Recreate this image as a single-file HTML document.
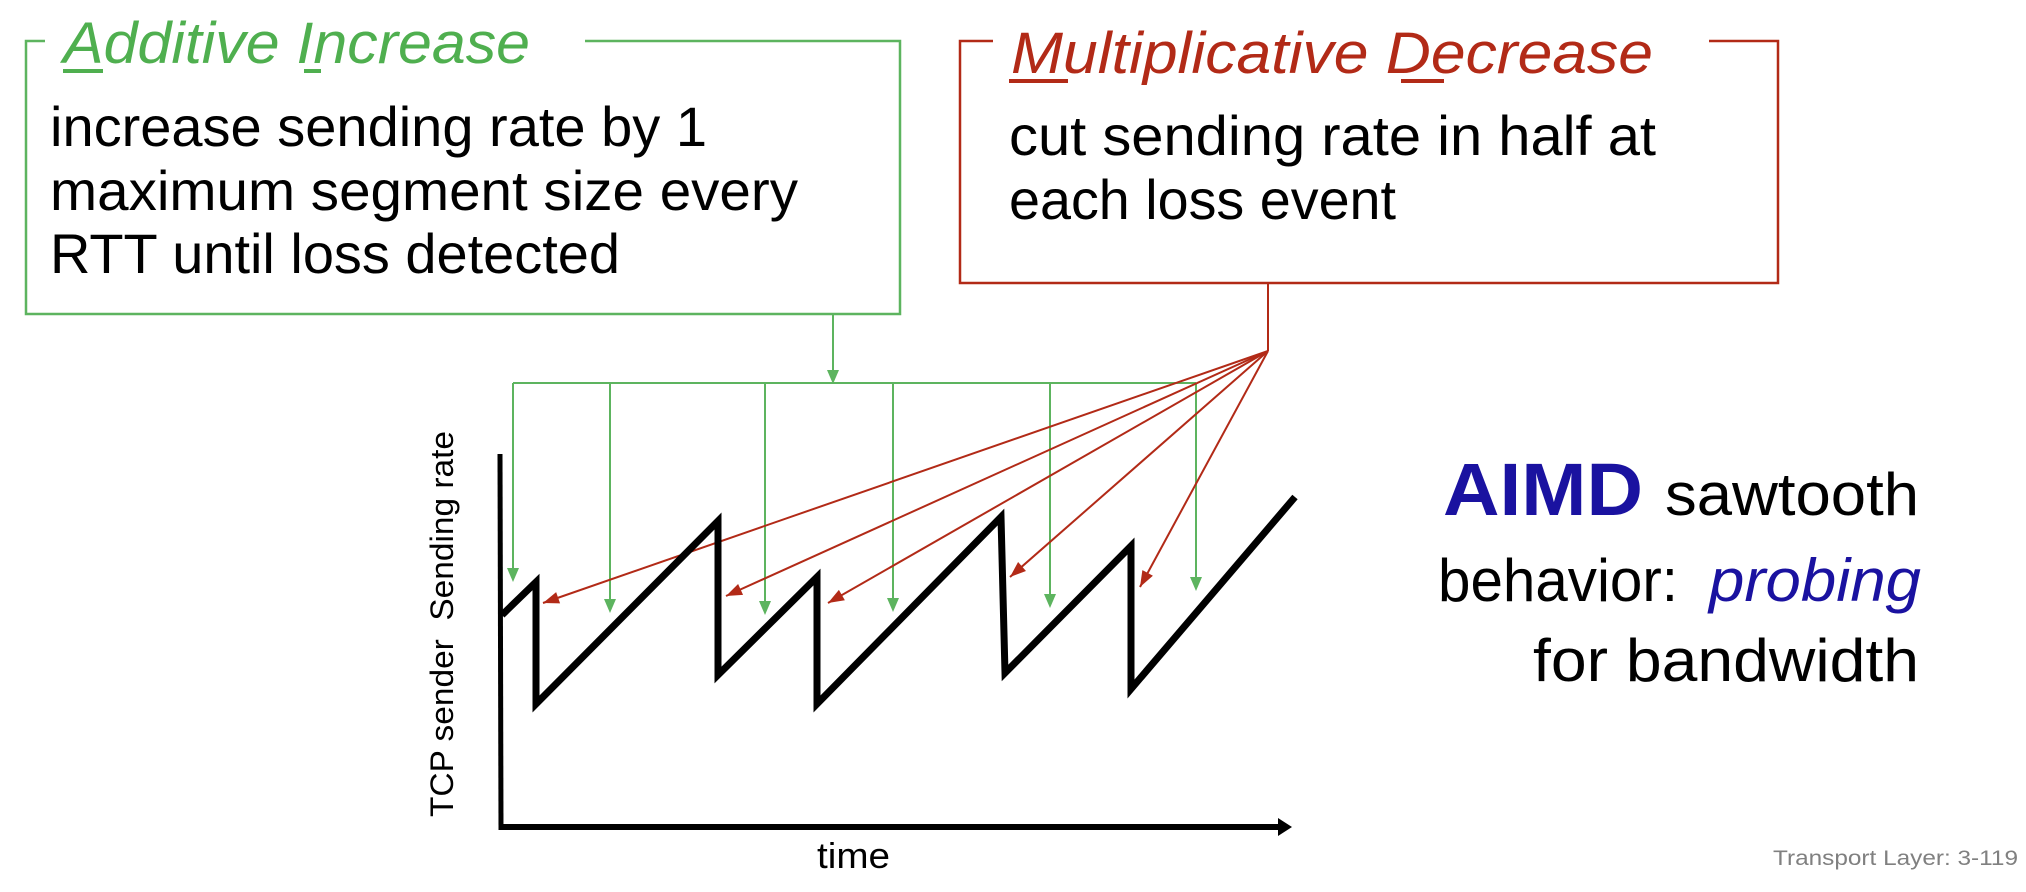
<!DOCTYPE html>
<html><head><meta charset="utf-8"><style>
html,body{margin:0;padding:0;background:#fff;}
svg{display:block;}
text{font-family:"Liberation Sans",sans-serif;}
</style></head><body>
<svg width="2026" height="892" viewBox="0 0 2026 892" xmlns="http://www.w3.org/2000/svg">
<!-- Green box -->
<polyline points="45,41 26,41 26,314 900,314 900,41 585,41" fill="none" stroke="#5DB45F" stroke-width="2.5"/>
<text x="63" y="63" font-size="58" font-style="italic" fill="#4FAF4F" textLength="467" lengthAdjust="spacingAndGlyphs">Additive Increase</text>
<rect x="63" y="69" width="40" height="4" fill="#4FAF4F"/>
<rect x="304" y="69" width="17" height="4" fill="#4FAF4F"/>
<text x="50" y="146" font-size="56" fill="#000" textLength="657" lengthAdjust="spacingAndGlyphs">increase sending rate by 1</text>
<text x="50" y="210" font-size="56" fill="#000" textLength="748" lengthAdjust="spacingAndGlyphs">maximum segment size every</text>
<text x="50" y="273" font-size="56" fill="#000" textLength="570" lengthAdjust="spacingAndGlyphs">RTT until loss detected</text>

<!-- Red box -->
<polyline points="993,41 960,41 960,283 1778,283 1778,41 1709,41" fill="none" stroke="#B22A17" stroke-width="2.5"/>
<text x="1011" y="73" font-size="58" font-style="italic" fill="#B22A17" textLength="642" lengthAdjust="spacingAndGlyphs">Multiplicative Decrease</text>
<rect x="1009" y="79" width="59" height="4" fill="#B22A17"/>
<rect x="1401" y="79" width="43" height="4" fill="#B22A17"/>
<text x="1009" y="155" font-size="56" fill="#000" textLength="647" lengthAdjust="spacingAndGlyphs">cut sending rate in half at</text>
<text x="1009" y="219" font-size="56" fill="#000" textLength="387" lengthAdjust="spacingAndGlyphs">each loss event</text>

<!-- Green connectors -->
<g stroke="#5DB45F" stroke-width="2" fill="none">
<line x1="833" y1="314" x2="833" y2="372"/>
<line x1="513" y1="383" x2="1196" y2="383"/>
<line x1="513" y1="383" x2="513" y2="570"/>
<line x1="610" y1="383" x2="610" y2="601"/>
<line x1="765" y1="383" x2="765" y2="603"/>
<line x1="893" y1="383" x2="893" y2="600"/>
<line x1="1050" y1="383" x2="1050" y2="596"/>
<line x1="1196" y1="383" x2="1196" y2="579"/>
</g>
<g fill="#5DB45F">
<polygon points="827,370 839,370 833,384"/>
<polygon points="507,568 519,568 513,582"/>
<polygon points="604,599 616,599 610,613"/>
<polygon points="759,601 771,601 765,615"/>
<polygon points="887,598 899,598 893,612"/>
<polygon points="1044,594 1056,594 1050,608"/>
<polygon points="1190,577 1202,577 1196,591"/>
</g>

<!-- Red connectors -->
<g stroke="#B22A17" stroke-width="2" fill="none">
<line x1="1268" y1="283" x2="1268" y2="351"/>
<line x1="1268" y1="351" x2="543" y2="603"/>
<line x1="1268" y1="351" x2="726" y2="596"/>
<line x1="1268" y1="351" x2="828" y2="603"/>
<line x1="1268" y1="351" x2="1010" y2="577"/>
<line x1="1268" y1="351" x2="1140" y2="587"/>
</g>
<g fill="#B22A17">
<polygon points="0,0 -16,-6 -16,6" transform="translate(543,603) rotate(160.8)"/>
<polygon points="0,0 -16,-6 -16,6" transform="translate(726,596) rotate(155.7)"/>
<polygon points="0,0 -16,-6 -16,6" transform="translate(828,603) rotate(150.2)"/>
<polygon points="0,0 -16,-6 -16,6" transform="translate(1010,577) rotate(138.8)"/>
<polygon points="0,0 -16,-6 -16,6" transform="translate(1140,587) rotate(118.5)"/>
</g>

<!-- Axes -->
<line x1="500" y1="454" x2="501" y2="830" stroke="#000" stroke-width="5"/>
<line x1="499" y1="827" x2="1280" y2="827" stroke="#000" stroke-width="6"/>
<polygon points="1278,818 1292,827 1278,836" fill="#000"/>

<!-- Sawtooth -->
<polyline points="502,615 536,582 536,704 718,521 718,675 817,577 817,704 1001,517 1005,673 1131,546 1131,689 1295,497" fill="none" stroke="#000" stroke-width="7" stroke-linejoin="miter"/>

<!-- axis labels -->
<text transform="translate(453,817) rotate(-90)" font-size="32" fill="#000" textLength="386" lengthAdjust="spacingAndGlyphs" xml:space="preserve">TCP sender  Sending rate</text>
<text x="817" y="868" font-size="36" fill="#000" textLength="73" lengthAdjust="spacingAndGlyphs">time</text>

<!-- Right text -->
<text x="1443" y="515" font-size="74" font-weight="bold" fill="#1A12A0" textLength="200" lengthAdjust="spacingAndGlyphs">AIMD</text>
<text x="1665" y="515" font-size="60" fill="#000" textLength="254" lengthAdjust="spacingAndGlyphs">sawtooth</text>
<text x="1438" y="601" font-size="60" fill="#000" textLength="240" lengthAdjust="spacingAndGlyphs">behavior:</text>
<text x="1709" y="601" font-size="60" font-style="italic" fill="#1A12A0" textLength="212" lengthAdjust="spacingAndGlyphs">probing</text>
<text x="1533" y="681" font-size="60" fill="#000" textLength="386" lengthAdjust="spacingAndGlyphs">for bandwidth</text>

<text x="1773" y="865" font-size="21" fill="#808080" textLength="245" lengthAdjust="spacingAndGlyphs">Transport Layer: 3-119</text>
</svg>
</body></html>
